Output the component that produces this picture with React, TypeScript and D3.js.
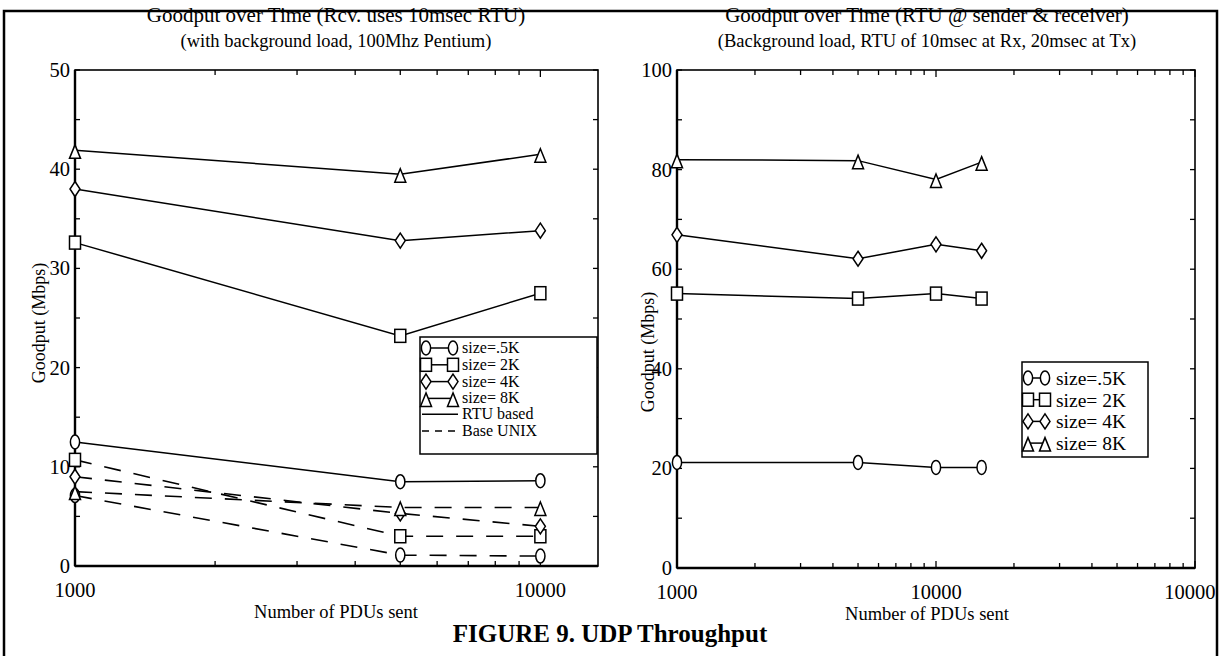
import React from "react";
import * as d3 from "d3";

// ---------- data ----------
const sizes = ["size=.5K", "size= 2K", "size= 4K", "size= 8K"];
const markerKinds = ["circle", "square", "diamond", "triangle"];

const leftX = [1000, 5000, 10000];
const leftRTU = [
  [12.5, 8.5, 8.6],
  [32.6, 23.2, 27.5],
  [38.0, 32.8, 33.8],
  [41.9, 39.5, 41.5],
];
const leftUnix = [
  [7.1, 1.1, 1.0],
  [10.7, 3.0, 3.0],
  [9.0, 5.3, 4.0],
  [7.5, 5.9, 5.9],
];

const rightX = [1000, 5000, 10000, 15000];
const rightRTU = [
  [21.2, 21.2, 20.2, 20.2],
  [55.1, 54.1, 55.1, 54.1],
  [66.9, 62.1, 65.0, 63.7],
  [82.0, 81.8, 78.0, 81.5],
];

const leftYTicks = [0, 10, 20, 30, 40, 50];
const rightYTicks = [0, 20, 40, 60, 80, 100];
const leftXTickLabels = [1000, 10000];
const rightXTickLabels = [1000, 10000, 100000];

const leftTitle = ["Goodput over Time (Rcv. uses 10msec RTU)", "(with background load, 100Mhz Pentium)"];
const rightTitle = ["Goodput over Time (RTU @ sender & receiver)", "(Background load, RTU of 10msec at Rx, 20msec at Tx)"];
const yLabel = "Goodput (Mbps)";
const xLabel = "Number of PDUs sent";
const figCaption = "FIGURE 9. UDP Throughput";
const lineStyleLabels = ["RTU based", "Base UNIX"];

const FONT = "'Liberation Serif', 'Times New Roman', serif";

function Marker({ kind, x, y }: { kind: string; x: number; y: number }) {
  const s = { fill: "#fff", stroke: "#000", strokeWidth: 1.5 } as any;
  if (kind === "circle") return <ellipse cx={x} cy={y} rx={4.6} ry={7} {...s} />;
  if (kind === "square") return <rect x={x - 5.5} y={y - 6.5} width={11} height={13} {...s} />;
  if (kind === "diamond")
    return <path d={`M${x},${y - 7.5}L${x + 5},${y}L${x},${y + 7.5}L${x - 5},${y}Z`} {...s} />;
  return <path d={`M${x},${y - 5.5}L${x + 5.5},${y + 8}L${x - 5.5},${y + 8}Z`} {...s} />;
}

function logMinorTicks(lo: number, hi: number) {
  const out: { v: number; major: boolean }[] = [];
  for (let dec = 1000; dec <= hi; dec *= 10) {
    for (let k = 1; k <= 9; k++) {
      const v = dec * k;
      if (v >= lo && v <= hi) out.push({ v, major: k === 1 });
    }
  }
  return out;
}

function Panel({
  x, y, yTicks, yMinor, xLabels, series, dashed, titles, yLabelPos, clipId, cx,
}: any) {
  const [x0, x1] = x.range();
  const [y0, y1] = y.range();
  const xt = logMinorTicks(x.domain()[0], x.domain()[1]);
  const line = d3.line<number>();
  return (
    <g>
      {/* titles */}
      <text x={cx} y={22} textAnchor="middle" fontSize={21}>{titles[0]}</text>
      <text x={cx} y={47} textAnchor="middle" fontSize={18.5}>{titles[1]}</text>
      {/* frame */}
      <rect x={x0} y={y1} width={x1 - x0} height={y0 - y1} fill="none" stroke="#000" strokeWidth={1.6} />
      <line x1={x0} x2={x0} y1={y1} y2={y0} stroke="#000" strokeWidth={2.4} />
      <line x1={x0} x2={x1} y1={y0} y2={y0} stroke="#000" strokeWidth={2.4} />
      {/* x ticks */}
      {xt.map((t, i) => (
        <g key={"xt" + i}>
          <line x1={x(t.v)} x2={x(t.v)} y1={y0} y2={y0 - (t.major ? 7 : 5)} stroke="#000" strokeWidth={1.3} />
          <line x1={x(t.v)} x2={x(t.v)} y1={y1} y2={y1 + (t.major ? 7 : 5)} stroke="#000" strokeWidth={1.3} />
        </g>
      ))}
      {/* y ticks */}
      {yMinor.map((v: number, i: number) => (
        <g key={"yt" + i}>
          <line x1={x0} x2={x0 + 5} y1={y(v)} y2={y(v)} stroke="#000" strokeWidth={1.3} />
          <line x1={x1} x2={x1 - 5} y1={y(v)} y2={y(v)} stroke="#000" strokeWidth={1.3} />
        </g>
      ))}
      {yTicks.map((v: number) => (
        <text key={"yl" + v} x={x0 - 5} y={y(v) + 7} textAnchor="end" fontSize={20.5}>{v}</text>
      ))}
      <g clipPath={`url(#${clipId})`}>
        {xLabels.map((v: number) => (
          <text key={"xl" + v} x={x(v)} y={y0 + 31} textAnchor="middle" fontSize={20.5}>{v}</text>
        ))}
      </g>
      <text x={cx} y={y0 + 52} textAnchor="middle" fontSize={18.5}>{xLabel}</text>
      <text
        transform={`translate(${yLabelPos[0]},${yLabelPos[1]}) rotate(-90)`}
        textAnchor="middle" fontSize={18}
      >{yLabel}</text>
      {/* dashed series */}
      {dashed &&
        dashed.series.map((vals: number[], si: number) => {
          const pts = vals.map((v, i) => [x(dashed.xs[i]), y(v)] as [number, number]);
          return (
            <g key={"d" + si}>
              <path d={line(pts) || ""} fill="none" stroke="#000" strokeWidth={1.6} strokeDasharray="17,13" />
              {pts.map((p, i) => <Marker key={i} kind={markerKinds[si]} x={p[0]} y={p[1]} />)}
            </g>
          );
        })}
      {/* solid series */}
      {series.series.map((vals: number[], si: number) => {
        const pts = vals.map((v, i) => [x(series.xs[i]), y(v)] as [number, number]);
        return (
          <g key={"s" + si}>
            <path d={line(pts) || ""} fill="none" stroke="#000" strokeWidth={1.5} />
            {pts.map((p, i) => <Marker key={i} kind={markerKinds[si]} x={p[0]} y={p[1]} />)}
          </g>
        );
      })}
    </g>
  );
}

export default function App() {
  const xL = d3.scaleLog().domain([1000, 13300]).range([75, 598]);
  const yL = d3.scaleLinear().domain([0, 50]).range([566, 70]);
  const xR = d3.scaleLog().domain([1000, 100000]).range([677, 1195]);
  const yR = d3.scaleLinear().domain([0, 100]).range([568, 70]);

  const leftMinor = d3.range(0, 51, 5);
  const rightMinor = d3.range(0, 101, 10);

  // legend rows
  const lgL = { x: 420, y: 337, w: 177, h: 117, row0: 348, dy: 16.8 };
  const lgR = { x: 1022, y: 362, w: 126, h: 95, row0: 378, dy: 21.7 };

  return (
    <svg width={1220} height={656} style={{ position: "absolute", left: 0, top: 0, background: "#fff" }}
      fontFamily={FONT}>
      <defs>
        <clipPath id="clipR"><rect x={600} y={0} width={615} height={656} /></clipPath>
        <clipPath id="clipL"><rect x={0} y={0} width={620} height={656} /></clipPath>
      </defs>
      <rect width={1220} height={656} fill="#fff" />
      {/* outer figure frame */}
      <path d="M4,656 L4,11 L1217,11 L1217,656" fill="none" stroke="#000" strokeWidth={2.5} />

      <Panel x={xL} y={yL} yTicks={leftYTicks} yMinor={leftMinor} xLabels={leftXTickLabels}
        series={{ xs: leftX, series: leftRTU }} dashed={{ xs: leftX, series: leftUnix }}
        titles={leftTitle} yLabelPos={[45, 323]} clipId="clipL" cx={336} />
      <Panel x={xR} y={yR} yTicks={rightYTicks} yMinor={rightMinor} xLabels={rightXTickLabels}
        series={{ xs: rightX, series: rightRTU }} dashed={null}
        titles={rightTitle} yLabelPos={[654, 352]} clipId="clipR" cx={927} />

      {/* left legend */}
      <rect x={lgL.x} y={lgL.y} width={lgL.w} height={lgL.h} fill="#fff" stroke="#000" strokeWidth={1.5} />
      {sizes.map((s, i) => {
        const yy = lgL.row0 + i * lgL.dy;
        return (
          <g key={"ll" + i}>
            <line x1={lgL.x + 6} x2={lgL.x + 33} y1={yy} y2={yy} stroke="#000" strokeWidth={1.5} />
            <Marker kind={markerKinds[i]} x={lgL.x + 6} y={yy} />
            <Marker kind={markerKinds[i]} x={lgL.x + 33} y={yy} />
            <text x={lgL.x + 42} y={yy + 5} fontSize={16}>{s}</text>
          </g>
        );
      })}
      {lineStyleLabels.map((s, i) => {
        const yy = lgL.row0 + (4 + i) * lgL.dy - 1;
        return (
          <g key={"ls" + i}>
            <line x1={lgL.x + 2} x2={lgL.x + 38} y1={yy} y2={yy} stroke="#000" strokeWidth={1.5}
              strokeDasharray={i === 1 ? "7,6" : undefined} />
            <text x={lgL.x + 42} y={yy + 5} fontSize={16}>{s}</text>
          </g>
        );
      })}

      {/* right legend */}
      <rect x={lgR.x} y={lgR.y} width={lgR.w} height={lgR.h} fill="#fff" stroke="#000" strokeWidth={1.5} />
      {sizes.map((s, i) => {
        const yy = lgR.row0 + i * lgR.dy;
        return (
          <g key={"rl" + i}>
            <line x1={lgR.x + 6} x2={lgR.x + 23} y1={yy} y2={yy} stroke="#000" strokeWidth={1.5} />
            <Marker kind={markerKinds[i]} x={lgR.x + 6} y={yy} />
            <Marker kind={markerKinds[i]} x={lgR.x + 23} y={yy} />
            <text x={lgR.x + 34} y={yy + 7} fontSize={19.5}>{s}</text>
          </g>
        );
      })}

      <text x={610} y={642} textAnchor="middle" fontSize={25} fontWeight="bold">{figCaption}</text>
    </svg>
  );
}
